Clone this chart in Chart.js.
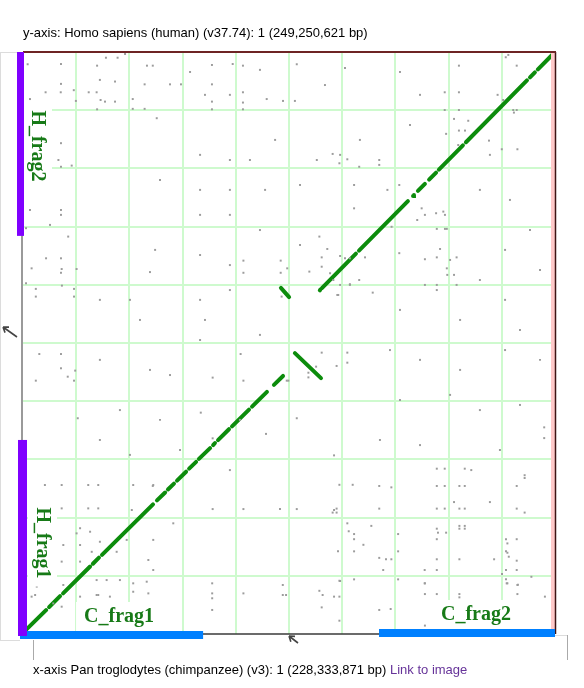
<!DOCTYPE html>
<html>
<head>
<meta charset="utf-8">
<script src="https://cdn.jsdelivr.net/npm/chart.js@4.4.1/dist/chart.umd.min.js"></script>
<style>
  body { margin: 0; background: #fff; font-family: "Liberation Sans", Arial, sans-serif; }
  #wrap { position: relative; width: 584px; height: 688px; }
  canvas { position: absolute; left: 0; top: 0; }
  .cap { position: absolute; font-size: 13px; line-height: 15px; color: #000; white-space: nowrap; }
  #ycap { left: 23px; top: 25px; }
  #xcap { left: 33px; top: 662px; }
  #xcap a { color: #663399; text-decoration: none; }
</style>
</head>
<body>
<div id="wrap">
  <canvas id="dotplot" width="584" height="688"></canvas>
  <div class="cap" id="ycap">y-axis: Homo sapiens (human) (v37.74): 1 (249,250,621 bp)</div>
  <div class="cap" id="xcap">x-axis Pan troglodytes (chimpanzee) (v3): 1 (228,333,871 bp) <a href="#">Link to image</a></div>
</div>
<script>
// all positions in Mbp
const xLength = 228.333871;   // chimp chr1
const yLength = 249.250621;   // human chr1
const xGrid = [22.83, 45.67, 68.50, 91.33, 114.17, 137.00, 159.83, 182.67, 205.50];
const yGrid = [24.93, 49.85, 74.78, 99.70, 124.63, 149.55, 174.48, 199.40, 224.33];

// aligned blocks [x0, y0, x1, y1]
const forwardBlocks = [
    [0.4, 0.9, 9.9, 10.2], [11.2, 11.5, 15.9, 16.2], [17.2, 17.4, 28.8, 28.9],
    [30.0, 30.1, 32.6, 32.7], [33.9, 33.9, 55.8, 55.5], [57.5, 57.2, 61.0, 60.6],
    [62.2, 61.9, 64.8, 64.4], [66.1, 65.7, 70.0, 69.5], [71.3, 70.8, 74.3, 73.7],
    [75.5, 75.0, 80.3, 79.6], [81.6, 80.9, 82.4, 81.8], [83.7, 83.0, 88.4, 87.7],
    [89.7, 88.9, 97.0, 96.1], [98.3, 97.4, 104.7, 103.7], [107.7, 106.7, 111.6, 110.5],
    [127.4, 147.2, 127.6, 147.5], [128.3, 148.1, 142.9, 162.9], [144.2, 164.2, 165.2, 185.4],
    [167.4, 187.6, 167.8, 188.0], [169.5, 189.8, 172.5, 192.8], [174.3, 194.6, 177.3, 197.6],
    [178.5, 198.9, 188.8, 209.3], [190.1, 210.6, 216.3, 237.1], [217.6, 238.4, 219.7, 240.5],
    [221.0, 241.8, 227.5, 248.4]
];
const invertedBlocks = [
    [110.7, 148.2, 114.2, 144.3],
    [116.7, 120.3, 127.9, 109.6]
];

// scattered short hits [x, y]
const noiseHits = [
    [2.0,244.0],[16.3,244.1],[31.8,243.4],[35.6,246.8],[40.6,246.8],[43.8,248.4],[53.2,243.4],[55.7,243.4],
    [81.1,243.7],[90.0,244.1],[94.4,243.4],[117.5,244.0],[16.3,235.6],[33.0,237.3],[39.5,236.6],[9.7,232.0],
    [16.2,232.0],[21.8,232.9],[28.2,232.0],[31.6,232.0],[52.2,235.4],[63.1,235.4],[67.8,235.4],[81.1,235.4],
    [94.4,232.0],[104.6,229.1],[111.6,228.3],[3.0,229.1],[22.7,228.3],[33.3,228.7],[35.2,228.0],[39.5,228.0],
    [47.1,229.1],[81.1,228.0],[94.4,227.6],[116.7,228.3],[31.8,224.7],[47.1,224.9],[52.2,224.9],[81.1,224.7],
    [94.4,224.7],[57.4,220.9],[16.3,210.2],[15.2,203.0],[16.3,200.1],[20.9,200.6],[3.0,181.6],[16.3,181.6],
    [16.3,179.5],[11.6,175.2],[1.3,173.8],[19.4,170.2],[9.9,160.9],[16.3,160.9],[3.7,156.6],[16.6,156.3],
    [16.3,154.7],[23.0,156.3],[1.3,150.2],[16.7,149.2],[5.5,147.8],[21.9,147.8],[5.5,144.5],[21.9,144.5],
    [7.0,119.9],[16.3,119.9],[16.3,113.8],[19.2,110.2],[22.4,112.8],[5.5,108.5],[21.9,108.5],[23.5,92.4],
    [9.4,63.8],[16.6,63.8],[28.0,63.8],[32.3,63.8],[47.3,63.8],[55.9,63.8],[16.6,53.8],[28.0,53.8],
    [32.3,53.8],[46.7,53.1],[24.5,45.3],[23.0,43.1],[28.8,43.8],[33.0,39.5],[24.5,38.1],[17.3,38.1],
    [29.5,35.2],[40.2,35.2],[44.5,40.3],[55.9,40.3],[53.8,31.7],[55.9,27.4],[64.5,47.4],[16.6,31.0],
    [24.5,31.0],[31.6,23.1],[35.9,23.1],[41.6,23.1],[47.3,21.7],[24.5,16.0],[32.3,16.7],[37.3,16.0],
    [53.8,17.4],[3.7,16.0],[5.9,20.3],[13.0,13.1],[16.6,11.7],[63.1,110.9],[81.4,109.8],[94.6,108.5],
    [76.3,94.8],[81.4,83.8],[104.3,85.7],[117.5,92.4],[55.7,63.4],[81.4,53.5],[94.6,53.5],[110.3,53.5],
    [117.5,53.5],[113.2,108.5],[126.1,203.0],[132.9,205.6],[136.1,205.2],[135.8,201.6],[139.2,203.3],[144.3,200.1],
    [152.9,203.0],[152.9,200.9],[142.1,192.3],[156.4,190.2],[161.5,192.3],[142.1,182.3],[171.1,182.3],[169.2,177.3],
    [172.5,179.5],[177.3,180.2],[180.4,180.9],[181.1,179.5],[177.6,173.5],[181.1,173.5],[181.9,173.5],[158.2,174.4],
    [127.2,170.2],[130.6,164.9],[128.2,161.3],[136.1,161.9],[138.2,160.9],[140.3,160.9],[146.8,161.3],[161.5,163.1],
    [172.5,160.5],[177.6,161.3],[179.0,164.9],[183.3,160.2],[186.1,161.3],[181.9,156.6],[182.1,153.8],[185.0,153.8],
    [144.3,151.6],[172.5,149.5],[177.6,149.5],[177.6,147.3],[186.1,149.5],[150.1,146.2],[136.1,149.5],[140.3,149.5],
    [135.3,145.2],[94.6,159.9],[110.6,159.9],[113.4,156.6],[122.9,155.2],[128.2,157.3],[131.8,154.5],[94.6,154.7],
    [110.6,154.7],[133.2,151.6],[140.3,149.8],[134.9,145.2],[111.0,144.5],[93.4,119.9],[128.2,120.5],[139.2,120.5],
    [139.2,116.2],[134.6,114.8],[125.8,114.5],[122.5,111.9],[122.5,109.9],[113.9,108.5],[208.3,248.0],[207.2,247.0],
    [211.9,243.4],[187.1,243.4],[227.3,243.3],[181.0,232.0],[187.1,232.0],[203.7,230.9],[227.3,232.0],[206.1,228.7],
    [210.4,224.4],[211.9,224.4],[210.7,223.3],[181.0,224.4],[187.1,224.4],[185.0,220.6],[191.1,219.8],[187.1,215.6],
    [189.7,215.6],[181.6,214.2],[227.3,215.6],[200.0,211.3],[186.8,209.4],[205.5,207.6],[212.2,207.6],[227.3,207.6],
    [200.4,205.2],[5.2,16.7],[17.3,21.0],[31.6,16.7],[47.3,18.1],[53.1,22.4],[81.2,21.7],[81.2,17.4],
    [81.2,15.3],[94.6,17.4],[111.5,21.0],[111.5,16.7],[112.9,16.7],[81.2,10.3],[127.2,18.5],[128.6,16.7],
    [133.5,16.0],[135.8,16.0],[128.2,11.4],[135.8,5.7],[152.9,10.3],[157.8,10.7],[172.5,21.7],[172.5,17.1],
    [177.6,17.1],[187.3,17.1],[187.3,15.7],[207.6,21.7],[212.2,21.0],[212.2,17.1],[224.0,16.0],[172.5,3.6],
    [136.1,22.7],[223.7,88.5],[223.7,83.9],[133.5,76.5],[177.6,70.8],[181.0,70.8],[189.6,70.8],[192.4,70.2],
    [215.3,68.0],[215.3,66.8],[135.8,63.9],[141.5,63.9],[152.9,63.4],[158.1,62.8],[177.6,63.4],[181.0,63.4],
    [187.3,63.4],[189.6,63.4],[211.9,63.4],[185.0,56.5],[200.4,56.5],[133.5,53.1],[134.6,53.7],[132.9,52.0],
    [134.6,52.0],[152.9,53.7],[177.6,53.7],[181.0,53.7],[187.3,53.7],[189.6,53.7],[211.9,53.7],[215.3,52.0],
    [139.2,47.4],[139.8,44.0],[142.1,42.8],[149.5,46.3],[142.1,40.6],[146.1,38.2],[135.2,35.4],[142.1,35.4],
    [152.9,32.6],[155.8,32.0],[158.1,32.0],[154.6,27.4],[161.0,42.8],[161.0,35.4],[177.6,45.1],[178.1,43.4],
    [181.6,43.4],[177.6,40.6],[177.6,32.0],[187.3,46.3],[189.6,46.3],[187.3,45.1],[189.6,45.1],[187.3,32.0],
    [202.2,32.0],[207.3,40.6],[211.9,40.6],[207.9,38.8],[207.3,35.4],[207.9,34.8],[208.5,33.1],[211.9,31.4],
    [172.4,27.4],[177.6,27.4],[207.3,27.4],[211.9,27.4],[205.6,25.7],[218.2,24.5],[135.8,22.8],[142.1,23.4],
    [161.0,23.4],[172.4,21.7],[207.3,23.4],[207.9,21.7],[212.4,21.1],
    [71.7,240.7],[88.8,230.9],[78.1,230.9],[101.7,241.6],[129.6,235.1],[138.2,242.4],[161.8,240.7],[170.4,230.9],
    [166.1,218.0],[144.6,211.6],[108.2,211.6],[97.4,203.0],[76.0,205.2],[88.8,203.0],[58.8,194.4],[76.0,190.2],
    [88.8,190.2],[103.9,190.2],[118.9,192.3],[76.0,179.5],[88.8,179.5],[101.7,173.0],[118.9,166.6],[56.7,164.5],
    [76.0,162.3],[88.8,158.0],[54.5,155.0],[45.9,143.1],[33.0,143.1],[76.0,143.1],[88.8,147.3],[78.1,134.5],
    [50.2,134.5],[33.0,117.4],[54.5,113.1],[76.0,125.9],[101.7,128.1],[41.6,95.9],[58.8,91.7],[93.1,91.7],
    [33.0,83.1],[45.9,76.7],[67.4,78.8],[88.8,70.2],[161.8,138.8],[187.6,134.5],[206.9,143.1],[213.3,130.2],
    [157.5,121.6],[170.4,117.4],[187.6,113.1],[206.9,121.6],[221.9,117.4],[161.8,100.2],[183.3,102.4],[196.1,95.9],
    [213.3,98.1],[153.2,83.1],[170.4,80.9],[204.7,78.8],[196.1,190.2],[209.0,185.9],[217.6,173.0],[206.9,164.5],
    [221.9,155.9],[196.1,151.6]
];

// fragment ranges
const humanFrags = [
    { name: 'H_frag1', from: 0, to: 83.1 },
    { name: 'H_frag2', from: 170.5, to: yLength }
];
const chimpFrags = [
    { name: 'C_frag1', from: 0, to: 77.3 },
    { name: 'C_frag2', from: 152.8, to: xLength }
];

const lineGreen = '#0c8c0c';
const labelGreen = '#177a17';

const blockSets = forwardBlocks.concat(invertedBlocks).map(b => ({
    data: [{ x: b[0], y: b[1] }, { x: b[2], y: b[3] }],
    showLine: true,
    borderColor: lineGreen,
    borderWidth: 4,
    borderCapStyle: 'round',
    pointRadius: 0,
    fill: false
}));

function arrow(ctx, x1, y1, x2, y2) {
    const ang = Math.atan2(y2 - y1, x2 - x1);
    ctx.beginPath();
    ctx.moveTo(x1, y1);
    ctx.lineTo(x2, y2);
    ctx.moveTo(x2, y2);
    ctx.lineTo(x2 - 6 * Math.cos(ang - 0.6), y2 - 6 * Math.sin(ang - 0.6));
    ctx.moveTo(x2, y2);
    ctx.lineTo(x2 - 6 * Math.cos(ang + 0.6), y2 - 6 * Math.sin(ang + 0.6));
    ctx.stroke();
}

function boxedLabel(ctx, text, cx, cy, vertical) {
    ctx.save();
    ctx.translate(cx, cy);
    if (vertical) ctx.rotate(Math.PI / 2);
    ctx.font = 'bold 20px "Liberation Serif", "DejaVu Serif", serif';
    const w = ctx.measureText(text).width;
    ctx.fillStyle = '#fff';
    ctx.fillRect(-w / 2 - 8, -14, w + 16, 29);
    ctx.fillStyle = labelGreen;
    ctx.textAlign = 'center';
    ctx.textBaseline = 'middle';
    ctx.fillText(text, 0, 1);
    ctx.restore();
}

const frameDecor = {
    id: 'frameDecor',
    afterDatasetsDraw(chart) {
        const { ctx, chartArea: a, scales: { x, y } } = chart;
        ctx.save();

        // faint outer frame pieces
        ctx.strokeStyle = '#dcdcdc';
        ctx.lineWidth = 1;
        ctx.beginPath();
        ctx.moveTo(0.5, a.top); ctx.lineTo(0.5, a.bottom + 6);
        ctx.moveTo(0, a.top + 0.5); ctx.lineTo(17, a.top + 0.5);
        ctx.moveTo(0, a.bottom + 6.5); ctx.lineTo(20, a.bottom + 6.5);
        ctx.moveTo(a.right, a.bottom + 1.5); ctx.lineTo(a.right + 12, a.bottom + 1.5);
        ctx.stroke();
        ctx.strokeStyle = '#aaa';
        ctx.beginPath();
        ctx.moveTo(33.5, a.bottom + 6); ctx.lineTo(33.5, a.bottom + 26);
        ctx.moveTo(a.right + 12.5, a.bottom + 1); ctx.lineTo(a.right + 12.5, a.bottom + 26);
        ctx.stroke();

        // right edge shading + border
        ctx.fillStyle = '#ffc9c9';
        ctx.fillRect(a.right - 4, a.top, 4, a.bottom - a.top);
        ctx.strokeStyle = '#3e1414';
        ctx.lineWidth = 1.5;
        ctx.beginPath();
        ctx.moveTo(a.right + 0.5, a.top); ctx.lineTo(a.right + 0.5, a.bottom);
        ctx.stroke();
        ctx.strokeStyle = '#6e2424';
        ctx.lineWidth = 2;
        ctx.beginPath();
        ctx.moveTo(a.left, a.top); ctx.lineTo(a.right + 1, a.top);
        ctx.stroke();

        // axes
        ctx.strokeStyle = '#9a9a9a';
        ctx.lineWidth = 2;
        ctx.beginPath();
        ctx.moveTo(a.left - 1, a.top); ctx.lineTo(a.left - 1, a.bottom);
        ctx.stroke();
        ctx.strokeStyle = '#3a3a3a';
        ctx.lineWidth = 1.5;
        ctx.beginPath();
        ctx.moveTo(a.left, a.bottom); ctx.lineTo(a.right, a.bottom);
        ctx.stroke();

        // direction arrows
        ctx.strokeStyle = '#444';
        ctx.lineWidth = 1.6;
        arrow(ctx, 17, 337, 3, 327);
        arrow(ctx, 298, a.bottom + 9, 289, a.bottom + 2);

        // fragment labels (white boxes hide grid behind them)
        const h1 = humanFrags[0], h2 = humanFrags[1];
        boxedLabel(ctx, h2.name, a.left + 15, (y.getPixelForValue(h2.from) + y.getPixelForValue(h2.to)) / 2 + 2, true);
        boxedLabel(ctx, h1.name, a.left + 20, (y.getPixelForValue(h1.from) + y.getPixelForValue(h1.to)) / 2 + 6, true);
        const c1 = chimpFrags[0], c2 = chimpFrags[1];
        boxedLabel(ctx, c1.name, (x.getPixelForValue(c1.from) + x.getPixelForValue(c1.to)) / 2 + 6, a.bottom - 18, false);
        boxedLabel(ctx, c2.name, (x.getPixelForValue(c2.from) + x.getPixelForValue(c2.to)) / 2 + 9, a.bottom - 20, false);

        // fragment bars
        ctx.fillStyle = '#0080ff';
        chimpFrags.forEach((f, i) => {
            const x0 = x.getPixelForValue(f.from) - (i === 0 ? 3 : 0);
            const x1 = x.getPixelForValue(f.to);
            const top = i === 0 ? a.bottom - 3 : a.bottom - 5;
            ctx.fillRect(x0, top, x1 - x0, 8);
        });
        ctx.fillStyle = '#7f00ff';
        humanFrags.forEach((f, i) => {
            const y0 = y.getPixelForValue(f.to);
            const y1 = y.getPixelForValue(f.from) + (i === 0 ? 2 : 0);
            if (i === 0) ctx.fillRect(a.left - 5, y0, 9, y1 - y0);
            else ctx.fillRect(a.left - 6, y0, 7, y1 - y0);
        });

        ctx.restore();
    }
};

new Chart(document.getElementById('dotplot'), {
    type: 'scatter',
    data: {
        datasets: [
            {
                data: noiseHits.map(p => ({ x: p[0], y: p[1] })),
                pointStyle: 'rect',
                pointRadius: 1.4,
                borderWidth: 0,
                backgroundColor: '#9c9c9c'
            }
        ].concat(blockSets)
    },
    options: {
        responsive: false,
        animation: false,
        devicePixelRatio: 1,
        layout: { padding: { left: 23, top: 52, right: 29, bottom: 54 } },
        plugins: { legend: { display: false }, tooltip: { enabled: false } },
        scales: {
            x: {
                type: 'linear', min: 0, max: xLength,
                ticks: { display: false },
                border: { display: false },
                grid: { color: 'rgb(206,250,206)', lineWidth: 2, drawTicks: false },
                afterBuildTicks: s => { s.ticks = xGrid.map(v => ({ value: v })); }
            },
            y: {
                type: 'linear', min: 0, max: yLength,
                ticks: { display: false },
                border: { display: false },
                grid: { color: 'rgb(206,250,206)', lineWidth: 2, drawTicks: false },
                afterBuildTicks: s => { s.ticks = yGrid.map(v => ({ value: v })); }
            }
        }
    },
    plugins: [frameDecor]
});
</script>
</body>
</html>
